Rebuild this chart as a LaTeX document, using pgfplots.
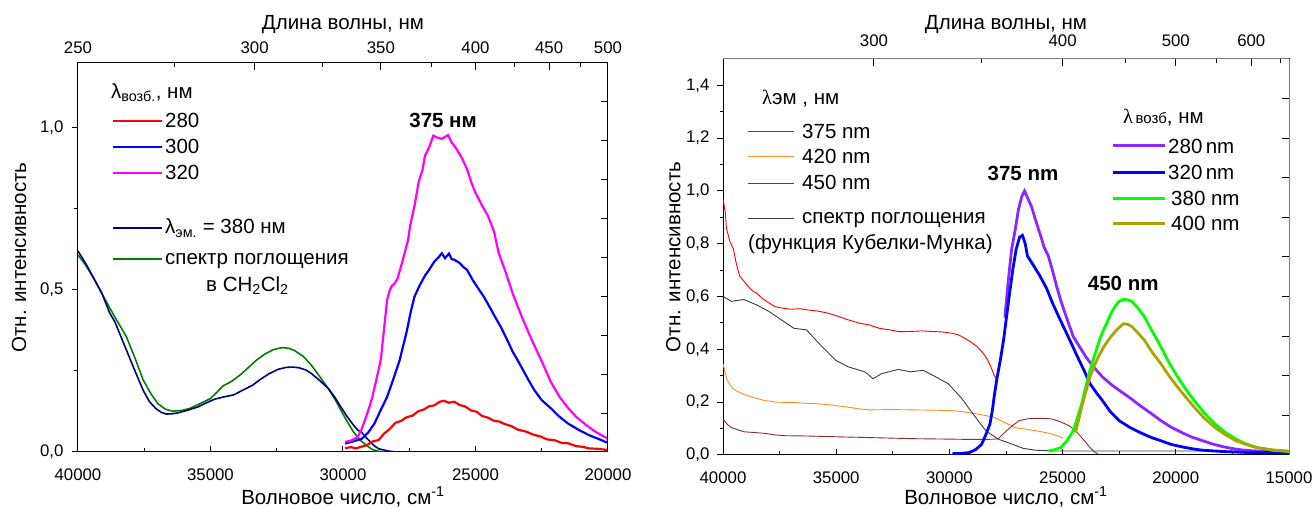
\documentclass[border=0pt]{standalone}
\usepackage{pgfplots}
\pgfplotsset{compat=1.18}
\usepackage{fontspec}
\setmainfont{Liberation Sans}
\newfontfamily\serifl{Liberation Serif}

\newcommand{\tickfont}{\fontsize{16.8}{18}\selectfont}
\newcommand{\labfont}{\fontsize{20.5}{23}\selectfont}
\newcommand{\legfont}{\fontsize{20.5}{23}\selectfont}

\definecolor{navy}{RGB}{0,0,128}
\definecolor{dgreen}{RGB}{0,128,0}
\definecolor{mag}{RGB}{255,0,255}
\definecolor{orng}{RGB}{255,140,30}
\definecolor{brwn}{RGB}{150,40,40}
\definecolor{dgray}{RGB}{60,60,60}
\definecolor{violet2}{RGB}{140,40,255}
\definecolor{lgreen}{RGB}{0,255,0}
\definecolor{olive2}{RGB}{170,165,0}

\pgfplotsset{
  panel/.style={
    scale only axis, anchor=south west, x dir=reverse,
    scaled x ticks=false, scaled y ticks=false,
    tick label style={font=\tickfont},
    label style={font=\labfont},
    /pgf/number format/assume math mode=true,
    /pgf/number format/1000 sep={},
    every tick/.style={line width=1pt},
    axis line style={line width=1pt},
  },
  yfmt/.style={yticklabel style={/tikz/xshift=#1, /pgf/number format/.cd, fixed, fixed zerofill, precision=1, use comma}},
}

\begin{document}
\begin{tikzpicture}[x=1pt,y=1pt]
\useasboundingbox (0,0) rectangle (1314,508);

% ---------------- left panel ----------------
\begin{axis}[panel, yfmt=-5pt, at={(78pt,56pt)}, width=530pt, height=389pt,
  xmin=20000, xmax=40000, ymin=0, ymax=1.2,
  tick pos=left,
  xtick={20000,25000,30000,35000,40000}, minor xtick={22500,27500,32500,37500},
  ytick={0,0.5,1}, minor ytick={0.25,0.75},
  xtick align=inside, ytick align=outside,
  major tick length=6pt, minor tick length=3.5pt,
  xticklabel style={yshift=-13pt},
  xlabel={Волновое число, см\textsuperscript{-1}},
  ylabel={Отн. интенсивность},
  xlabel style={at={(axis description cs:0.5,-0.1157)}, anchor=center},
  ylabel style={at={(axis description cs:-0.111,0.5)}, anchor=center},
]
% absorption in CH2Cl2
\addplot[dgreen, line width=1.6pt] coordinates {
(40000,0.608) (39700,0.575) (39400,0.535) (38969,0.469) (38600,0.415) (38175,0.356)
(37850,0.29) (37540,0.222) (37250,0.18) (36985,0.149) (36700,0.132) (36429,0.126)
(36100,0.128) (35794,0.134) (35400,0.149) (35000,0.165) (34750,0.185) (34525,0.204)
(34200,0.218) (33890,0.237) (33550,0.262) (33255,0.284) (32950,0.302) (32620,0.316)
(32303,0.322) (32050,0.32) (31827,0.313) (31500,0.295) (31192,0.268) (30900,0.235)
(30557,0.196) (30300,0.162) (30081,0.129) (29850,0.095) (29605,0.062) (29350,0.037)
(29129,0.021) (28900,0.008) (28653,0.002) (28400,0.0)};
% lambda em = 380
\addplot[navy, line width=1.6pt] coordinates {
(40000,0.62) (39700,0.58) (39400,0.535) (39100,0.49) (38810,0.43) (38600,0.40)
(38400,0.36) (38175,0.315) (37900,0.26) (37540,0.19) (37300,0.155) (37064,0.134)
(36850,0.122) (36667,0.117) (36450,0.118) (36270,0.12) (35900,0.128) (35477,0.139)
(35150,0.152) (34842,0.163) (34500,0.170) (34130,0.176) (33800,0.19) (33413,0.206)
(33100,0.225) (32778,0.242) (32450,0.255) (32144,0.261) (31900,0.262) (31668,0.26)
(31400,0.253) (31192,0.242) (30900,0.222) (30557,0.196) (30300,0.168) (30081,0.139)
(29850,0.11) (29605,0.083) (29450,0.068) (29288,0.06) (29130,0.045) (28970,0.031)
(28800,0.018) (28653,0.010) (28300,0.003) (28000,0.0)};
% ex 280
\addplot[red, line width=2.2pt] coordinates {
(29920,0.012) (29700,0.015) (29500,0.011) (29288,0.017) (29100,0.021) (28900,0.032)
(28653,0.037) (28450,0.057) (28250,0.070) (28018,0.090) (27800,0.096) (27600,0.107)
(27383,0.112) (27150,0.126) (26950,0.131) (26749,0.141) (26550,0.144) (26350,0.155)
(26193,0.158) (26000,0.152) (25800,0.155) (25600,0.145) (25400,0.141) (25162,0.128)
(24950,0.124) (24750,0.111) (24527,0.106) (24300,0.096) (24100,0.094) (23892,0.086)
(23650,0.080) (23400,0.069) (23098,0.063) (22800,0.053) (22550,0.048) (22304,0.039)
(22000,0.036) (21750,0.028) (21511,0.027) (21200,0.018) (20950,0.016) (20717,0.011)
(20400,0.010) (20000,0.006)};
% ex 300
\addplot[blue, line width=2.2pt] coordinates {
(29920,0.026) (29600,0.033) (29288,0.041) (29050,0.06) (28812,0.088) (28600,0.125)
(28336,0.17) (28100,0.225) (27860,0.284) (27600,0.37) (27450,0.43) (27304,0.479)
(27100,0.515) (26900,0.545) (26749,0.562) (26550,0.588) (26400,0.60) (26272,0.613)
(26150,0.598) (26000,0.612) (25900,0.595) (25797,0.593) (25600,0.583) (25450,0.57)
(25321,0.562) (25100,0.53) (24900,0.505) (24686,0.479) (24450,0.445) (24250,0.415)
(24051,0.387) (23800,0.345) (23600,0.31) (23416,0.284) (23200,0.252) (23000,0.222)
(22781,0.191) (22500,0.16) (22146,0.134) (21850,0.11) (21511,0.088) (21100,0.068)
(20717,0.052) (20350,0.04) (20000,0.028)};
% ex 320
\addplot[mag, line width=2.2pt] coordinates {
(29920,0.031) (29700,0.035) (29446,0.046) (29300,0.07) (29129,0.108) (29000,0.14)
(28891,0.17) (28750,0.22) (28574,0.284) (28450,0.38) (28336,0.469) (28250,0.495)
(28177,0.51) (28050,0.52) (27939,0.536) (27750,0.59) (27542,0.655) (27463,0.70)
(27300,0.76) (27146,0.832) (27000,0.87) (26907,0.914) (26750,0.94) (26590,0.976)
(26450,0.97) (26272,0.966) (26150,0.972) (26034,0.978) (25900,0.955) (25717,0.935)
(25500,0.905) (25321,0.873) (25150,0.83) (25003,0.8) (24750,0.76) (24527,0.728)
(24300,0.68) (24130,0.615) (23892,0.562) (23600,0.49) (23257,0.418) (22900,0.35)
(22463,0.273) (22150,0.215) (21829,0.17) (21500,0.135) (21194,0.108) (20850,0.085)
(20559,0.067) (20250,0.052) (20000,0.041)};
\node[font=\legfont\bfseries] at (axis cs:26223,1.022) {375 нм};
\end{axis}

\begin{axis}[panel, at={(78pt,56pt)}, width=530pt, height=389pt,
  xmin=20000, xmax=40000, ymin=0, ymax=1.2,
  axis x line*=top, axis y line*=right, axis line style={-},
  xtick={40000,33333.33,28571.43,25000,22222.22,20000},
  xticklabels={250,300,350,400,450,500},
  minor xtick={36363.64,30769.23,26666.67,23529.41,21052.63},
  ytick={0.12,0.24,0.36,0.48,0.6,0.72,0.84,0.96,1.08}, yticklabels={},
  tick align=inside, major tick length=7pt, minor tick length=4pt,
  xticklabel style={yshift=6pt},
  xlabel={Длина волны, нм},
  xlabel style={at={(axis description cs:0.5,1.0977)}, anchor=center},
]
\end{axis}

% left legend
\node[anchor=base west, inner sep=0pt, font=\legfont] at (111,409.5) {λ\textsubscript{возб.}, нм};
\draw[red, line width=2.5pt] (113,387) -- (162,387);
\draw[blue, line width=2.5pt] (113,361) -- (162,361);
\draw[mag, line width=2.5pt] (113,335) -- (162,335);
\draw[navy, line width=2pt] (113,280) -- (162,280);
\draw[dgreen, line width=2pt] (113,249) -- (162,249);
\node[anchor=base west, inner sep=0pt, font=\legfont] at (165,380.4) {280};
\node[anchor=base west, inner sep=0pt, font=\legfont] at (165,354.4) {300};
\node[anchor=base west, inner sep=0pt, font=\legfont] at (165,328.4) {320};
\node[anchor=base west, inner sep=0pt, font=\legfont] at (165,274) {λ\textsubscript{эм.} = 380 нм};
\node[anchor=base west, inner sep=0pt, font=\legfont] at (165,243) {спектр поглощения};
\node[anchor=base west, inner sep=0pt, font=\legfont] at (206,216.3) {в CH\textsubscript{2}Cl\textsubscript{2}};

% ---------------- right panel ----------------
\begin{axis}[panel, yfmt=-4pt, at={(723pt,53pt)}, width=566pt, height=396pt,
  xmin=15000, xmax=40000, ymin=0, ymax=1.5,
  tick pos=left,
  xtick={15000,20000,25000,30000,35000,40000}, minor xtick={17500,22500,27500,32500,37500},
  ytick={0,0.2,0.4,0.6,0.8,1.0,1.2,1.4}, minor ytick={0.1,0.3,0.5,0.7,0.9,1.1,1.3},
  xtick align=inside, ytick align=outside,
  major tick length=6pt, minor tick length=3.5pt,
  xticklabel style={yshift=-13pt},
  xlabel={Волновое число, см\textsuperscript{-1}},
  ylabel={Отн. интенсивность},
  xlabel style={at={(axis description cs:0.5,-0.1053)}, anchor=center},
  ylabel style={at={(axis description cs:-0.088,0.5)}, anchor=center},
]
% em 375
\addplot[red, line width=0.9pt] coordinates {
(40000,0.97) (39900,0.92) (39850,0.86) (39700,0.81) (39540,0.78) (39400,0.72)
(39263,0.678) (38895,0.639) (38700,0.622) (38526,0.614) (38250,0.592) (37974,0.576)
(37700,0.562) (37421,0.557) (37000,0.552) (36600,0.554) (36316,0.55) (35800,0.545)
(35395,0.538) (34900,0.525) (34474,0.512) (34000,0.50) (33553,0.493) (33100,0.48)
(32632,0.474) (32200,0.467) (31711,0.468) (31200,0.47) (30790,0.468) (30300,0.466)
(29869,0.461) (29600,0.455) (29316,0.442) (29000,0.425) (28764,0.41) (28500,0.385)
(28303,0.359) (28150,0.33) (28027,0.302) (27880,0.283)};
% em 420
\addplot[orng, line width=0.9pt] coordinates {
(40000,0.346) (39900,0.31) (39816,0.283) (39600,0.255) (39447,0.245) (39100,0.23)
(38711,0.219) (38200,0.207) (37605,0.20) (37000,0.199) (36316,0.196) (35800,0.194)
(35395,0.191) (34900,0.186) (34474,0.181) (34000,0.175) (33553,0.171) (32600,0.172)
(31711,0.171) (30800,0.170) (29869,0.168) (29400,0.164) (28948,0.158) (28500,0.151)
(28027,0.143) (27600,0.125) (27106,0.104) (26600,0.097) (26185,0.092) (25800,0.086)
(25448,0.079) (25200,0.072) (24988,0.064)};
% em 450
\addplot[brwn, line width=0.9pt] coordinates {
(40000,0.136) (39800,0.115) (39632,0.104) (39300,0.094) (39079,0.088) (38600,0.085)
(38158,0.082) (37700,0.076) (37237,0.073) (36300,0.072) (35395,0.07) (34500,0.068)
(33553,0.066) (32600,0.064) (31711,0.062) (30800,0.061) (29869,0.06) (29100,0.059)
(28396,0.059) (28000,0.06) (27843,0.062) (27650,0.078) (27474,0.092) (27200,0.112)
(26922,0.13) (26550,0.137) (26185,0.139) (25800,0.139) (25448,0.136) (25100,0.126)
(24711,0.111) (24400,0.09) (24158,0.066) (23950,0.045) (23790,0.028) (23600,0.012)
(23421,0.003)};
% Kubelka-Munk absorption
\addplot[dgray, line width=0.9pt] coordinates {
(40000,0.601) (39632,0.582) (39079,0.589) (38526,0.569) (37974,0.544) (37421,0.512)
(36869,0.48) (36316,0.474) (35763,0.423) (35026,0.359) (34474,0.334) (33737,0.315)
(33369,0.289) (33000,0.308) (32264,0.324) (31711,0.315) (31158,0.321) (30606,0.296)
(30053,0.27) (29500,0.219) (28948,0.155) (28395,0.092) (27843,0.06) (27290,0.043)
(26737,0.025) (26185,0.018) (25264,0.015) (24343,0.015) (20000,0.015) (15000,0.015)};
\end{axis}

\begin{axis}[panel, at={(723pt,53pt)}, width=566pt, height=396pt,
  xmin=15000, xmax=40000, ymin=0, ymax=1.5,
  axis x line*=top, axis y line*=right, axis line style={-, gray},
  xtick={33333.33,25000,20000,16666.67}, xticklabels={300,400,500,600},
  minor xtick={28571.43,22222.22,18181.82,15384.62},
  ytick={0.15,0.3,0.45,0.6,0.75,0.9,1.05,1.2,1.35}, yticklabels={},
  tick align=inside, major tick length=7pt, minor tick length=4pt,
  xticklabel style={yshift=9pt},
  xlabel={Длина волны, нм},
  xlabel style={at={(axis description cs:0.5,1.0859)}, anchor=center},
]
% ex 280
\addplot[violet2, line width=2.8pt] coordinates {
(27550,0.52) (27400,0.66) (27250,0.78) (27100,0.85) (26950,0.93) (26800,0.98) (26682,1.0)
(26550,0.975) (26369,0.94) (26230,0.90) (26093,0.863) (25950,0.825) (25817,0.787)
(25632,0.754) (25450,0.70) (25264,0.639) (25080,0.585) (24896,0.538) (24700,0.49)
(24527,0.448) (24250,0.41) (23974,0.372) (23600,0.33) (23238,0.296) (22870,0.268)
(22501,0.245) (22000,0.215) (21580,0.187) (21100,0.158) (20659,0.13) (20200,0.105)
(19738,0.085) (19300,0.068) (18817,0.054) (18350,0.041) (17896,0.031) (17400,0.023)
(16975,0.018) (16000,0.013) (15000,0.01)};
% ex 320
\addplot[blue, line width=2.8pt] coordinates {
(29869,0.005) (29500,0.006) (29132,0.009) (28850,0.02) (28580,0.04) (28400,0.075)
(28211,0.117) (28100,0.17) (28027,0.219) (27900,0.29) (27751,0.359) (27600,0.44)
(27474,0.525) (27330,0.62) (27198,0.703) (27050,0.78) (26900,0.825) (26774,0.832)
(26650,0.80) (26553,0.754) (26300,0.72) (26000,0.678) (25700,0.63) (25448,0.576)
(25150,0.52) (24896,0.474) (24600,0.42) (24343,0.372) (24050,0.32) (23790,0.27)
(23500,0.235) (23238,0.206) (22900,0.165) (22501,0.13) (22000,0.103) (21580,0.085)
(21100,0.067) (20659,0.054) (20200,0.04) (19738,0.031) (19300,0.024) (18817,0.018)
(17900,0.013) (16975,0.01) (16000,0.009) (15000,0.008)};
% ex 380
\addplot[lgreen, line width=2.8pt] coordinates {
(25632,0.015) (25350,0.02) (25080,0.028) (24800,0.055) (24527,0.092) (24350,0.14)
(24158,0.194) (23970,0.26) (23790,0.321) (23600,0.375) (23421,0.423) (23240,0.465)
(23053,0.499) (22870,0.535) (22685,0.563) (22500,0.582) (22316,0.589) (22130,0.588)
(21948,0.582) (21700,0.56) (21396,0.525) (21050,0.47) (20659,0.41) (20300,0.35)
(19922,0.296) (19550,0.248) (19185,0.206) (18750,0.16) (18264,0.117) (17800,0.085)
(17343,0.06) (16900,0.042) (16422,0.028) (15700,0.018) (15000,0.013)};
% ex 400
\addplot[olive2, line width=2.8pt] coordinates {
(24435,0.085) (24300,0.13) (24158,0.181) (23970,0.24) (23790,0.296) (23600,0.337)
(23421,0.372) (23150,0.414) (22869,0.448) (22600,0.475) (22316,0.497) (22130,0.495)
(21948,0.487) (21700,0.465) (21396,0.436) (21050,0.39) (20659,0.346) (20300,0.30)
(19922,0.257) (19550,0.218) (19185,0.181) (18750,0.14) (18264,0.104) (17800,0.076)
(17343,0.054) (16900,0.04) (16422,0.028) (15700,0.019) (15000,0.015)};
\node[font=\legfont\bfseries] at (axis cs:26751,1.067) {375 nm};
\node[font=\legfont\bfseries] at (axis cs:22323,0.65) {450 nm};
\end{axis}

% right legends
\node[anchor=base west, inner sep=0pt, font=\legfont] at (762,403) {{\serifl λ}эм , нм};
\draw[red, line width=1.2pt] (748,376.3) -- (794,376.3);
\draw[orng, line width=1.2pt] (748,351.3) -- (794,351.3);
\draw[brwn, line width=1.2pt] (748,324.7) -- (794,324.7);
\draw[dgray, line width=1.2pt] (748,289.7) -- (794,289.7);
\node[anchor=base west, inner sep=0pt, font=\legfont] at (802,369.7) {375 nm};
\node[anchor=base west, inner sep=0pt, font=\legfont] at (802,344.7) {420 nm};
\node[anchor=base west, inner sep=0pt, font=\legfont] at (802,318) {450 nm};
\node[anchor=base west, inner sep=0pt, font=\legfont] at (802,284.7) {спектр поглощения};
\node[anchor=base west, inner sep=0pt, font=\legfont] at (748,258) {(функция Кубелки-Мунка)};

\node[anchor=base west, inner sep=0pt, font=\legfont] at (1123,384.7) {{\serifl λ}{\fontsize{15}{17}\selectfont\,возб}, нм};
\draw[violet2, line width=3pt] (1113,362.3) -- (1165,362.3);
\draw[blue, line width=3pt] (1113,335.7) -- (1165,335.7);
\draw[lgreen, line width=3pt] (1113,309) -- (1165,309);
\draw[olive2, line width=3pt] (1113,284) -- (1165,284);
\node[anchor=base west, inner sep=0pt, font=\legfont] at (1168,354.7) {280\,nm};
\node[anchor=base west, inner sep=0pt, font=\legfont] at (1168,328) {320\,nm};
\node[anchor=base west, inner sep=0pt, font=\legfont] at (1171,302.3) {380 nm};
\node[anchor=base west, inner sep=0pt, font=\legfont] at (1171,277.3) {400 nm};
\end{tikzpicture}
\end{document}
